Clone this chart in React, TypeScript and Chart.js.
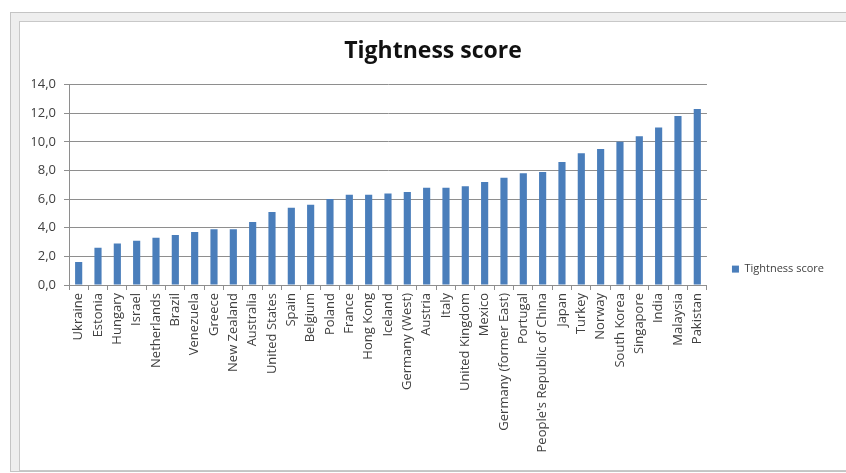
import React, { useEffect, useRef } from "react";
import { Chart, registerables } from "chart.js";

Chart.register(...registerables);

const countries = [
  "Ukraine", "Estonia", "Hungary", "Israel", "Netherlands", "Brazil", "Venezuela",
  "Greece", "New Zealand", "Australia", "United States", "Spain", "Belgium", "Poland",
  "France", "Hong Kong", "Iceland", "Germany (West)", "Austria", "Italy",
  "United Kingdom", "Mexico", "Germany (former East)", "Portugal",
  "People's Republic of China", "Japan", "Turkey", "Norway", "South Korea",
  "Singapore", "India", "Malaysia", "Pakistan",
];

const tightnessScores = [
  1.6, 2.6, 2.9, 3.1, 3.3, 3.5, 3.7, 3.9, 3.9, 4.4, 5.1, 5.4, 5.6, 6.0, 6.3, 6.3,
  6.4, 6.5, 6.8, 6.8, 6.9, 7.2, 7.5, 7.8, 7.9, 8.6, 9.2, 9.5, 10.0, 10.4, 11.0,
  11.8, 12.3,
];

const seriesName = "Tightness score";
const chartTitle = "Tightness score";
const yMin = 0;
const yMax = 14;
const yStep = 2;

export default function App() {
  const canvasRef = useRef<HTMLCanvasElement | null>(null);

  useEffect(() => {
    if (!canvasRef.current) return;
    const font = "'Open Sans', 'DejaVu Sans', sans-serif";
    const chart = new Chart(canvasRef.current, {
      type: "bar",
      data: {
        labels: countries,
        datasets: [
          {
            label: seriesName,
            data: tightnessScores,
            backgroundColor: "#4A7EBB",
            borderWidth: 0,
            barPercentage: 0.37,
            categoryPercentage: 1,
          },
        ],
      },
      options: {
        animation: false,
        responsive: false,
        maintainAspectRatio: false,
        layout: { padding: { left: 12, right: 12, top: 0, bottom: 0 } },
        plugins: {
          title: {
            display: true,
            text: chartTitle,
            color: "#111111",
            font: { family: font, size: 23, weight: "bold" },
            padding: { top: 16, bottom: 19 },
          },
          legend: {
            display: true,
            position: "right",
            title: {
              display: true,
              text: "",
              font: { family: font, size: 1 },
              padding: { top: 45, bottom: 0 },
            },
            labels: {
              boxWidth: 7,
              boxHeight: 7,
              padding: 25,
              color: "#404040",
              font: { family: font, size: 11 },
            },
          },
          tooltip: { enabled: false },
        },
        scales: {
          x: {
            grid: {
              display: true,
              drawOnChartArea: false,
              drawTicks: true,
              tickLength: 5,
              color: "#8e8e8e",
              offset: true,
            },
            border: { display: true, color: "#8e8e8e" },
            ticks: {
              autoSkip: false,
              minRotation: 90,
              maxRotation: 90,
              padding: 3,
              color: "#404040",
              font: { family: font, size: 13 },
            },
            afterFit: (scale: any) => {
              scale.height = 185;
            },
          },
          y: {
            min: yMin,
            max: yMax,
            ticks: {
              stepSize: yStep,
              padding: 8,
              color: "#404040",
              font: { family: font, size: 13 },
              callback: (v: any) => Number(v).toFixed(1).replace(".", ","),
            },
            grid: {
              color: "#8e8e8e",
              tickLength: 5,
            },
            border: { display: true, color: "#8e8e8e" },
            afterFit: (scale: any) => {
              scale.width = 37;
            },
          },
        },
      },
    });
    return () => chart.destroy();
  }, []);

  return (
    <div
      style={{
        position: "absolute",
        left: 0,
        top: 0,
        width: 846,
        height: 473,
        background: "#ffffff",
        overflow: "hidden",
      }}
    >
      <div
        style={{
          position: "absolute",
          left: 10,
          top: 12,
          width: 850,
          height: 460,
          background: "#eeeeee",
          border: "1px solid #c4c4c4",
          boxSizing: "border-box",
        }}
      />
      <div
        style={{
          position: "absolute",
          left: 19,
          top: 21,
          width: 840,
          height: 450,
          background: "#ffffff",
          border: "1px solid #c8c8c8",
          boxSizing: "border-box",
        }}
      />
      <canvas
        ref={canvasRef}
        width={826}
        height={448}
        style={{ position: "absolute", left: 20, top: 22, width: 826, height: 448 }}
      />
    </div>
  );
}
